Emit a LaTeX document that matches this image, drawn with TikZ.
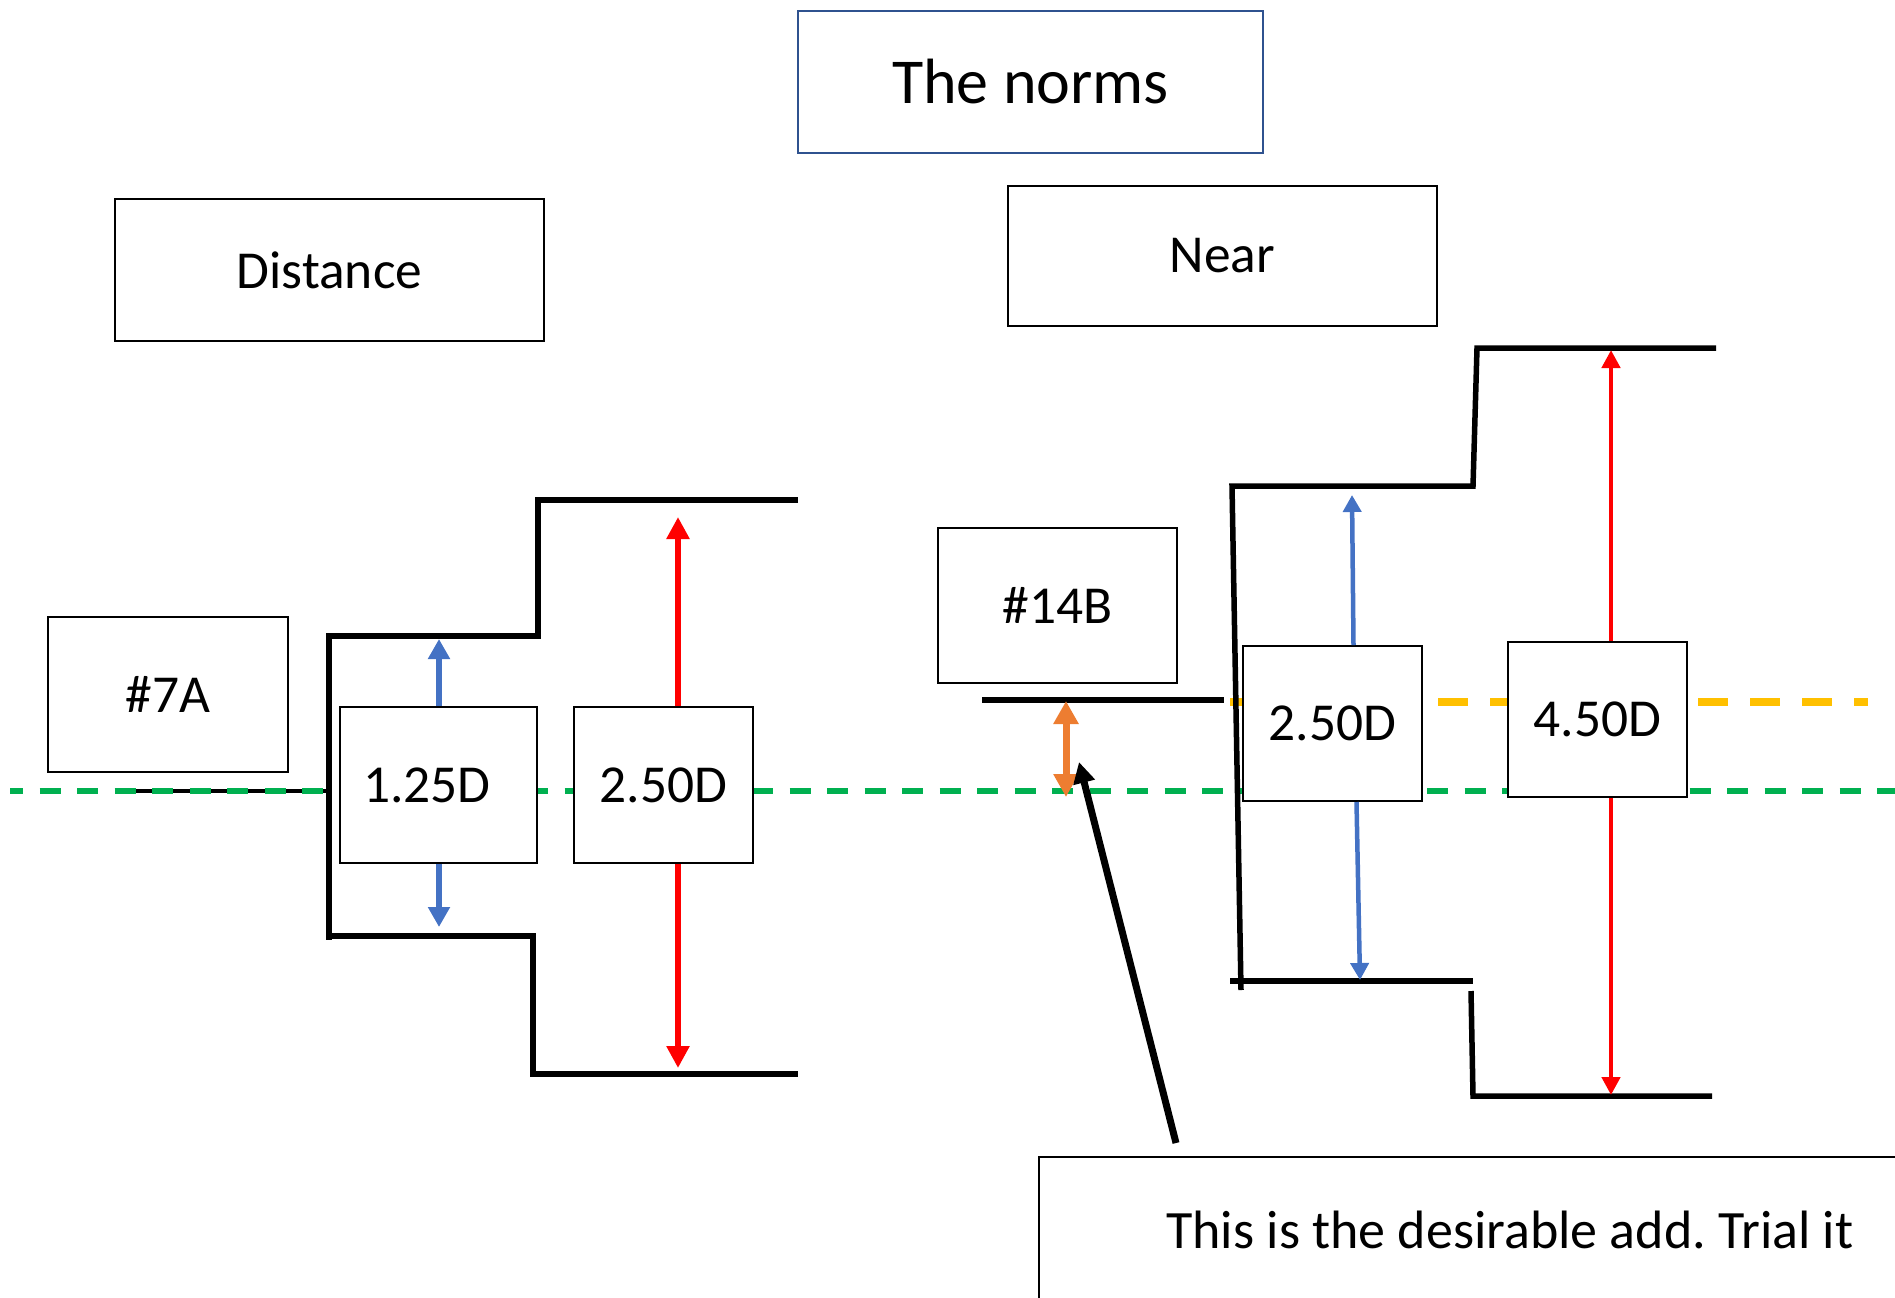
\documentclass[tikz,border=0pt]{standalone}
\usepackage{fontspec}
\setmainfont{Carlito}
\usetikzlibrary{arrows.meta}
\definecolor{lineblue}{HTML}{4472C4}
\definecolor{boxblue}{HTML}{2F528F}
\definecolor{normgreen}{HTML}{00B050}
\definecolor{nearyellow}{HTML}{FFC000}
\definecolor{addorange}{HTML}{ED7D31}
\begin{document}
\begin{tikzpicture}[x=0.5pt,y=-0.5pt,
	box/.style={draw,line width=1pt,fill=white,inner sep=0pt,font=\fontsize{26.7pt}{30pt}\selectfont},
	stair/.style={line width=2.75pt},
	bluearr/.style={-{Triangle[width=10.5pt,length=10pt]},lineblue,line width=3pt},
	bluethin/.style={-{Triangle[width=9pt,length=8.5pt]},lineblue,line width=2.25pt},
	redarr/.style={-{Triangle[width=11pt,length=11pt]},red,line width=3pt},
	redthin/.style={-{Triangle[width=9pt,length=9pt]},red,line width=2.25pt},
	orangearr/.style={{Triangle[width=12pt,length=11.5pt]}-{Triangle[width=12pt,length=11.5pt]},addorange,line width=3.5pt},
	pointer/.style={-{Triangle[width=10.5pt,length=10.5pt]},line width=3.5pt}]
	\useasboundingbox (0,0) rectangle (1895,1297);
	\clip (0,0) rectangle (1895,1297);
	% reference levels
	\draw[line width=1.75pt] (118,791) -- (327,791);
	\draw[normgreen,line width=2.6pt,dash pattern=on 10.5pt off 8.25pt,dash phase=4pt] (10,791) -- (1895,791);
	\draw[nearyellow,line width=3.75pt,dash pattern=on 15pt off 11pt] (1230,702) -- (1868,702);
	% distance steps
	\draw[stair] (798,500) -- (538,500) -- (538,636) -- (329,636) -- (329,940);
	\draw[stair] (329,936) -- (533,936) -- (533,1074) -- (798,1074);
	% near steps
	\draw[stair] (982,700) -- (1224,700);
	\draw[stair] (1716,348) -- (1477,348) -- (1473,486) -- (1232,486) -- (1241,990);
	\draw[stair] (1230,981) -- (1473,981);
	\draw[stair] (1471,991) -- (1473,1096) -- (1712,1096);
	% boxes
	\node[box,draw=boxblue,minimum width=232.5pt,minimum height=71pt,font=\fontsize{32pt}{36pt}\selectfont] (norms) at (1030.5,82) {The norms};
	\node[box,minimum width=214.5pt,minimum height=71pt] (dist) at (329.5,270) {Distance};
	\node[box,minimum width=214.5pt,minimum height=70pt] (near) at (1222.5,256) {Near};
	\node[box,minimum width=120pt,minimum height=77.5pt] (sevenA) at (168,694.5) {\#7A};
	\node[box,minimum width=98.5pt,minimum height=78pt,inner xsep=11.5pt,text width=75.5pt,align=left] (dOne) at (438.5,785) {1.25D};
	\node[box,minimum width=89.5pt,minimum height=78pt] (dTwoL) at (663.5,785) {2.50D};
	\node[box,minimum width=119.5pt,minimum height=77.5pt] (fourteenB) at (1057.5,605.5) {\#14B};
	\node[box,minimum width=89.5pt,minimum height=77.5pt] (dTwoR) at (1332.5,723.5) {2.50D};
	\node[box,minimum width=89.5pt,minimum height=77.5pt] (dFour) at (1597.5,719.5) {4.50D};
	\node[box,minimum width=471pt,minimum height=73pt,font=\fontsize{27pt}{32pt}\selectfont] (add) at (1510,1230) {This is the desirable add.\ Trial it};
	% arrow ends
	\coordinate (bOneTop) at (439,639);
	\coordinate (bOneBot) at (439,927);
	\coordinate (rOneTop) at (678,517);
	\coordinate (rOneBot) at (678,1068);
	\coordinate (bTwoTop) at (1352,495);
	\coordinate (bTwoBot) at (1360,980);
	\coordinate (rTwoTop) at (1611,350);
	\coordinate (rTwoBot) at (1611,1095);
	\coordinate (addTop) at (1066,701);
	\coordinate (addBot) at (1066,797);
	\coordinate (ptr) at (1176,1143);
	\coordinate (ptrTip) at (1079,762);
	\draw[bluearr] (dOne.north -| bOneTop) -- (bOneTop);
	\draw[bluearr] (dOne.south -| bOneBot) -- (bOneBot);
	\draw[redarr] (dTwoL.north -| rOneTop) -- (rOneTop);
	\draw[redarr] (dTwoL.south -| rOneBot) -- (rOneBot);
	\draw[bluethin] ([xshift=10.5pt]dTwoR.north) -- (bTwoTop);
	\draw[bluethin] ([xshift=12pt]dTwoR.south) -- (bTwoBot);
	\draw[redthin] (dFour.north -| rTwoTop) -- (rTwoTop);
	\draw[redthin] (dFour.south -| rTwoBot) -- (rTwoBot);
	\draw[orangearr] (addTop) -- (addBot);
	\draw[pointer] (ptr) -- (ptrTip);
\end{tikzpicture}
\end{document}
